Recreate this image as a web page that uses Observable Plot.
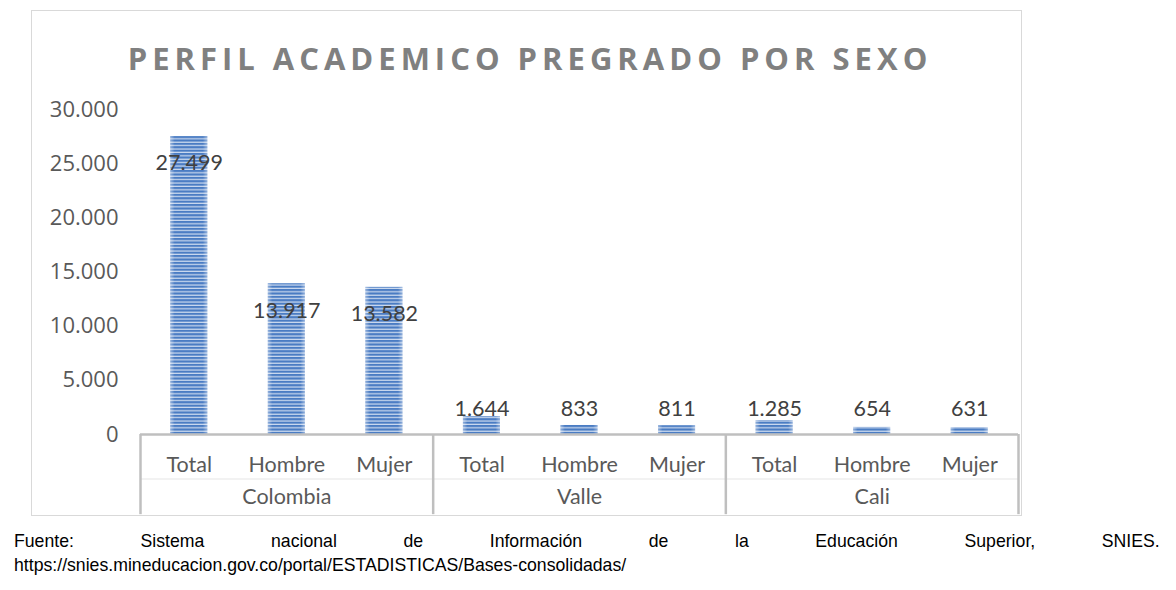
<!DOCTYPE html>
<html>
<head>
<meta charset="utf-8">
<script src="https://cdn.jsdelivr.net/npm/d3@7"></script>
<script src="https://cdn.jsdelivr.net/npm/@observablehq/plot@0.6"></script>
<style>
  html, body { margin: 0; padding: 0; background: #fff; }
  #page { position: relative; width: 1176px; height: 590px; overflow: hidden; }
  #frame { position: absolute; left: 31px; top: 10px; width: 991px; height: 506px; border: 1.5px solid #d9d9d9; box-sizing: border-box; }
  #title { position: absolute; left: 0; width: 1060px; top: 38px; text-align: center; font-family: "Open Sans", sans-serif; font-weight: 700; font-size: 31px; letter-spacing: 5px; color: #808080; line-height: 40px; white-space: nowrap; }
  #chart { position: absolute; left: 0; top: 0; }
  .foot { position: absolute; left: 14px; font-family: "Liberation Sans Narrow", "Arial Narrow", "Liberation Sans", Arial, sans-serif; font-size: 19px; color: #000; line-height: 24px; white-space: nowrap; transform: scaleX(0.93); transform-origin: 0 0; }
  #foot1 { top: 529px; width: 1232px; text-align: justify; text-align-last: justify; white-space: normal; }
  #foot2 { top: 553px; }
</style>
</head>
<body>
<div id="page">
  <div id="frame"></div>
  <div id="title">PERFIL ACADEMICO PREGRADO POR SEXO</div>
  <div id="chart"></div>
  <div class="foot" id="foot1">Fuente: Sistema nacional de Información de la Educación Superior, SNIES.</div>
  <div class="foot" id="foot2">https://snies.mineducacion.gov.co/portal/ESTADISTICAS/Bases-consolidadas/</div>
</div>
<script>
// ---- data ----
const groups = ["Colombia", "Valle", "Cali"];
const sexes = ["Total", "Hombre", "Mujer"];
const values = [27499, 13917, 13582, 1644, 833, 811, 1285, 654, 631];
const yTicks = [0, 5000, 10000, 15000, 20000, 25000, 30000];

const rows = values.map((v, i) => ({
  i,
  group: groups[Math.floor(i / sexes.length)],
  sex: sexes[i % sexes.length],
  value: v
}));
const groupRows = groups.map((g, k) => ({ group: g, mid: k * sexes.length + (sexes.length - 1) / 2 }));
const separators = d3.range(0, groups.length + 1).map(k => k * sexes.length - 0.5);

const esFmt = d3.formatLocale({ decimal: ",", thousands: ".", grouping: [3], currency: ["", ""] }).format(",d");

const stripes = () => {
  const ns = "http://www.w3.org/2000/svg";
  const defs = document.createElementNS(ns, "defs");
  const grad = document.createElementNS(ns, "linearGradient");
  grad.setAttribute("id", "edge");
  grad.setAttribute("x1", "0"); grad.setAttribute("x2", "1");
  [["0", "#ffffff", 0.4], ["0.12", "#ffffff", 0], ["0.88", "#ffffff", 0], ["1", "#ffffff", 0.4]].forEach(([o, c, a]) => {
    const s = document.createElementNS(ns, "stop");
    s.setAttribute("offset", o); s.setAttribute("stop-color", c); s.setAttribute("stop-opacity", a);
    grad.appendChild(s);
  });
  defs.appendChild(grad);
  const p = document.createElementNS(ns, "pattern");
  p.setAttribute("id", "stripes");
  p.setAttribute("patternUnits", "userSpaceOnUse");
  p.setAttribute("width", "8");
  p.setAttribute("height", "3.4");
  const bg = document.createElementNS(ns, "rect");
  bg.setAttribute("width", "8"); bg.setAttribute("height", "3.4"); bg.setAttribute("fill", "#cfdcf0");
  const fg = document.createElementNS(ns, "rect");
  fg.setAttribute("width", "8"); fg.setAttribute("height", "2.2"); fg.setAttribute("fill", "#4a7cc3");
  p.appendChild(bg); p.appendChild(fg);
  defs.appendChild(p);
  return defs;
};

const plot = Plot.plot({
  width: 1176,
  height: 535,
  marginLeft: 140,
  marginRight: 158,
  marginTop: 109,
  marginBottom: 101,
  style: { fontFamily: "'Open Sans', sans-serif", fontSize: "22px", color: "#595959", background: "transparent" },
  x: { domain: [-0.5, 8.5], axis: null },
  y: { domain: [0, 30000] },
  marks: [
    stripes,
    Plot.axisY({ ticks: yTicks, tickFormat: esFmt, tickSize: 0, tickPadding: 22, label: null }),
    Plot.rectY(rows, { x1: d => d.i - 0.19, x2: d => d.i + 0.19, y: "value", fill: "url(#stripes)" }),
    Plot.rectY(rows, { x1: d => d.i - 0.19, x2: d => d.i + 0.19, y: "value", fill: "url(#edge)" }),
    Plot.ruleY([-4100], { stroke: "#eeeeee", strokeWidth: 1.5 }),
    Plot.ruleY([0], { stroke: "#bfbfbf", strokeWidth: 2.5 }),
    Plot.ruleX(separators, { y1: 0, y2: -7400, stroke: "#bfbfbf", strokeWidth: 2.5 }),
    Plot.text(rows.filter(d => d.value > 5000), { x: "i", y: "value", text: d => esFmt(d.value), dy: 27, fontFamily: "Lato, sans-serif", fontSize: 21.5, fill: "#404040" }),
    Plot.text(rows.filter(d => d.value <= 5000), { x: "i", y: 0, text: d => esFmt(d.value), dy: -25, fontFamily: "Lato, sans-serif", fontSize: 21.5, fill: "#404040" }),
    Plot.text(rows, { x: "i", y: 0, text: "sex", dy: 31, fontFamily: "Lato, sans-serif", fontSize: 21.5, fill: "#595959" }),
    Plot.text(groupRows, { x: "mid", y: 0, text: "group", dy: 63, fontFamily: "Lato, sans-serif", fontSize: 21.5, fill: "#595959" })
  ]
});
document.getElementById("chart").appendChild(plot);
</script>
</body>
</html>
